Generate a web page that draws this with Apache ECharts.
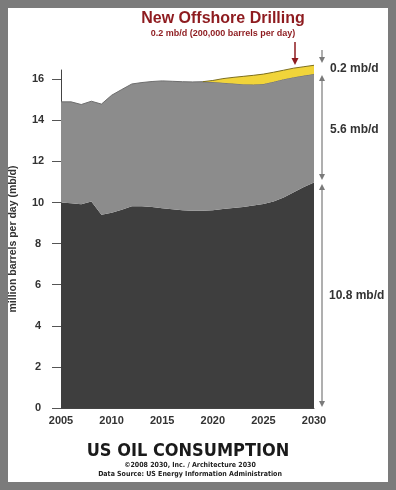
<!DOCTYPE html>
<html>
<head>
<meta charset="utf-8">
<script src="https://cdn.jsdelivr.net/npm/echarts@6/dist/echarts.min.js"></script>
<style>
html,body{margin:0;padding:0;background:#fff;}
#chart{width:396px;height:490px;}
</style>
</head>
<body>
<div id="chart"></div>
<script>
const years = ['2005','2006','2007','2008','2009','2010','2011','2012','2013','2014','2015','2016','2017','2018','2019','2020','2021','2022','2023','2024','2025','2026','2027','2028','2029','2030'];
const foreignOil = [10.0,9.97,9.92,10.05,9.4,9.5,9.65,9.82,9.82,9.78,9.72,9.67,9.62,9.6,9.6,9.62,9.68,9.73,9.78,9.85,9.93,10.05,10.25,10.5,10.75,10.97];
const usOil = [4.9,4.93,4.85,4.88,5.39,5.72,5.85,5.95,6.02,6.11,6.2,6.23,6.26,6.27,6.28,6.24,6.15,6.06,5.98,5.89,5.84,5.83,5.75,5.6,5.43,5.28];
const offshoreOil = ['-','-','-','-','-','-','-','-','-','-','-','-','-','-',0,0.08,0.2,0.3,0.38,0.45,0.48,0.46,0.44,0.44,0.43,0.43];
const yTicks = [0,2,4,6,8,10,12,14,16];
const xTickLabels = ['2005','2010','2015','2020','2025','2030'];

const FONT = '"Liberation Sans", Arial, sans-serif';
const NARROW = '"Liberation Sans Narrow", "DejaVu Sans Condensed", "Liberation Sans", sans-serif';
const RED = '#8e1b1f';
const ARW = '#7a7a7a';

function tri(pts, color){ return {type:'polygon', shape:{points:pts}, style:{fill:color}, silent:true}; }
function vline(x,y1,y2,color,w){ return {type:'line', shape:{x1:x,y1:y1,x2:x,y2:y2}, style:{stroke:color,lineWidth:w}, silent:true}; }
function txt(x,y,t,opt){ return Object.assign({type:'text', x:x, y:y, style:Object.assign({text:t, fontFamily:FONT, fontWeight:'bold'}, opt)}, {silent:true}); }

const chart = echarts.init(document.getElementById('chart'), null, {renderer:'canvas'});
chart.setOption({
  backgroundColor:'#fff',
  animation:false,
  grid:{left:60,right:82,top:70,bottom:82},
  xAxis:{
    type:'category', data:years, boundaryGap:false,
    axisLine:{lineStyle:{color:'#444',width:1}},
    axisTick:{show:false},
    axisLabel:{interval:(i,v)=>xTickLabels.includes(v), color:'#333', fontWeight:'bold', fontSize:11, margin:7, fontFamily:FONT}
  },
  yAxis:{
    type:'value', min:0, max:16.45,
    splitLine:{show:false},
    axisLine:{show:true, lineStyle:{color:'#444',width:1}},
    axisTick:{show:true, length:9, customValues:yTicks, lineStyle:{color:'#555'}},
    axisLabel:{customValues:yTicks, color:'#333', fontWeight:'bold', fontSize:11, margin:23, align:'center', fontFamily:FONT},
    name:'million barrels per day (mb/d)', nameLocation:'middle', nameGap:42,
    nameTextStyle:{color:'#333', fontWeight:'bold', fontSize:10.5, fontFamily:FONT}
  },
  series:[
    {name:'Foreign Oil', type:'line', stack:'oil', data:foreignOil, symbol:'none', clip:false,
     lineStyle:{width:0}, areaStyle:{color:'#3e3e3e', opacity:1}, z:2},
    {name:'U.S. Oil', type:'line', stack:'oil', data:usOil, symbol:'none', clip:false,
     lineStyle:{width:1, color:'#6e6e6e'}, areaStyle:{color:'#8c8c8c', opacity:1}, z:3},
    {name:'New Offshore Drilling', type:'line', stack:'oil', data:offshoreOil, symbol:'none', clip:false,
     lineStyle:{width:1, color:'#7d6f1e'}, areaStyle:{color:'#f1d43a', opacity:1}, z:4}
  ],
  graphic:[
    {type:'rect', shape:{x:4,y:4,width:388,height:482}, style:{fill:'none', stroke:'#7b7b7b', lineWidth:8}, silent:true, z:100},
    txt(223,19,'New Offshore Drilling',{fill:RED, fontSize:16, align:'center', verticalAlign:'middle'}),
    txt(223,34,'0.2 mb/d (200,000 barrels per day)',{fill:RED, fontSize:9, align:'center', verticalAlign:'middle'}),
    vline(295,42,60,RED,1.5),
    tri([[291.5,58],[298.5,58],[295,65]],RED),
    vline(322,50,58,ARW,1.2),
    tri([[319,57],[325,57],[322,63]],ARW),
    vline(322,80,175,ARW,1.2),
    tri([[319,81],[325,81],[322,75]],ARW),
    tri([[319,174],[325,174],[322,180]],ARW),
    vline(322,189,402,ARW,1.2),
    tri([[319,190],[325,190],[322,184]],ARW),
    tri([[319,401],[325,401],[322,407]],ARW),
    txt(330,69,'0.2 mb/d',{fill:'#333', fontSize:12, verticalAlign:'middle'}),
    txt(330,130,'5.6 mb/d',{fill:'#333', fontSize:12, verticalAlign:'middle'}),
    txt(329,296,'10.8 mb/d',{fill:'#333', fontSize:12, verticalAlign:'middle'}),
    txt(72,180,'U.S. Oil',{fill:'#fff', fontSize:15, verticalAlign:'middle'}),
    txt(72,381,'Foreign Oil',{fill:'#fff', fontSize:15, verticalAlign:'middle'}),
    {type:'text', x:188, y:451, silent:true, style:{text:'US OIL CONSUMPTION', fontFamily:NARROW, fontWeight:'bold', fontSize:18, fill:'#1a1a1a', align:'center', verticalAlign:'middle'}},
    {type:'text', x:190, y:465, silent:true, style:{text:'\u00a92008 2030, Inc. / Architecture 2030', fontFamily:NARROW, fontWeight:'bold', fontSize:7, fill:'#222', align:'center', verticalAlign:'middle'}},
    {type:'text', x:190, y:474, silent:true, style:{text:'Data Source: US Energy Information Administration', fontFamily:NARROW, fontWeight:'bold', fontSize:7, fill:'#222', align:'center', verticalAlign:'middle'}}
  ]
});
</script>
</body>
</html>
